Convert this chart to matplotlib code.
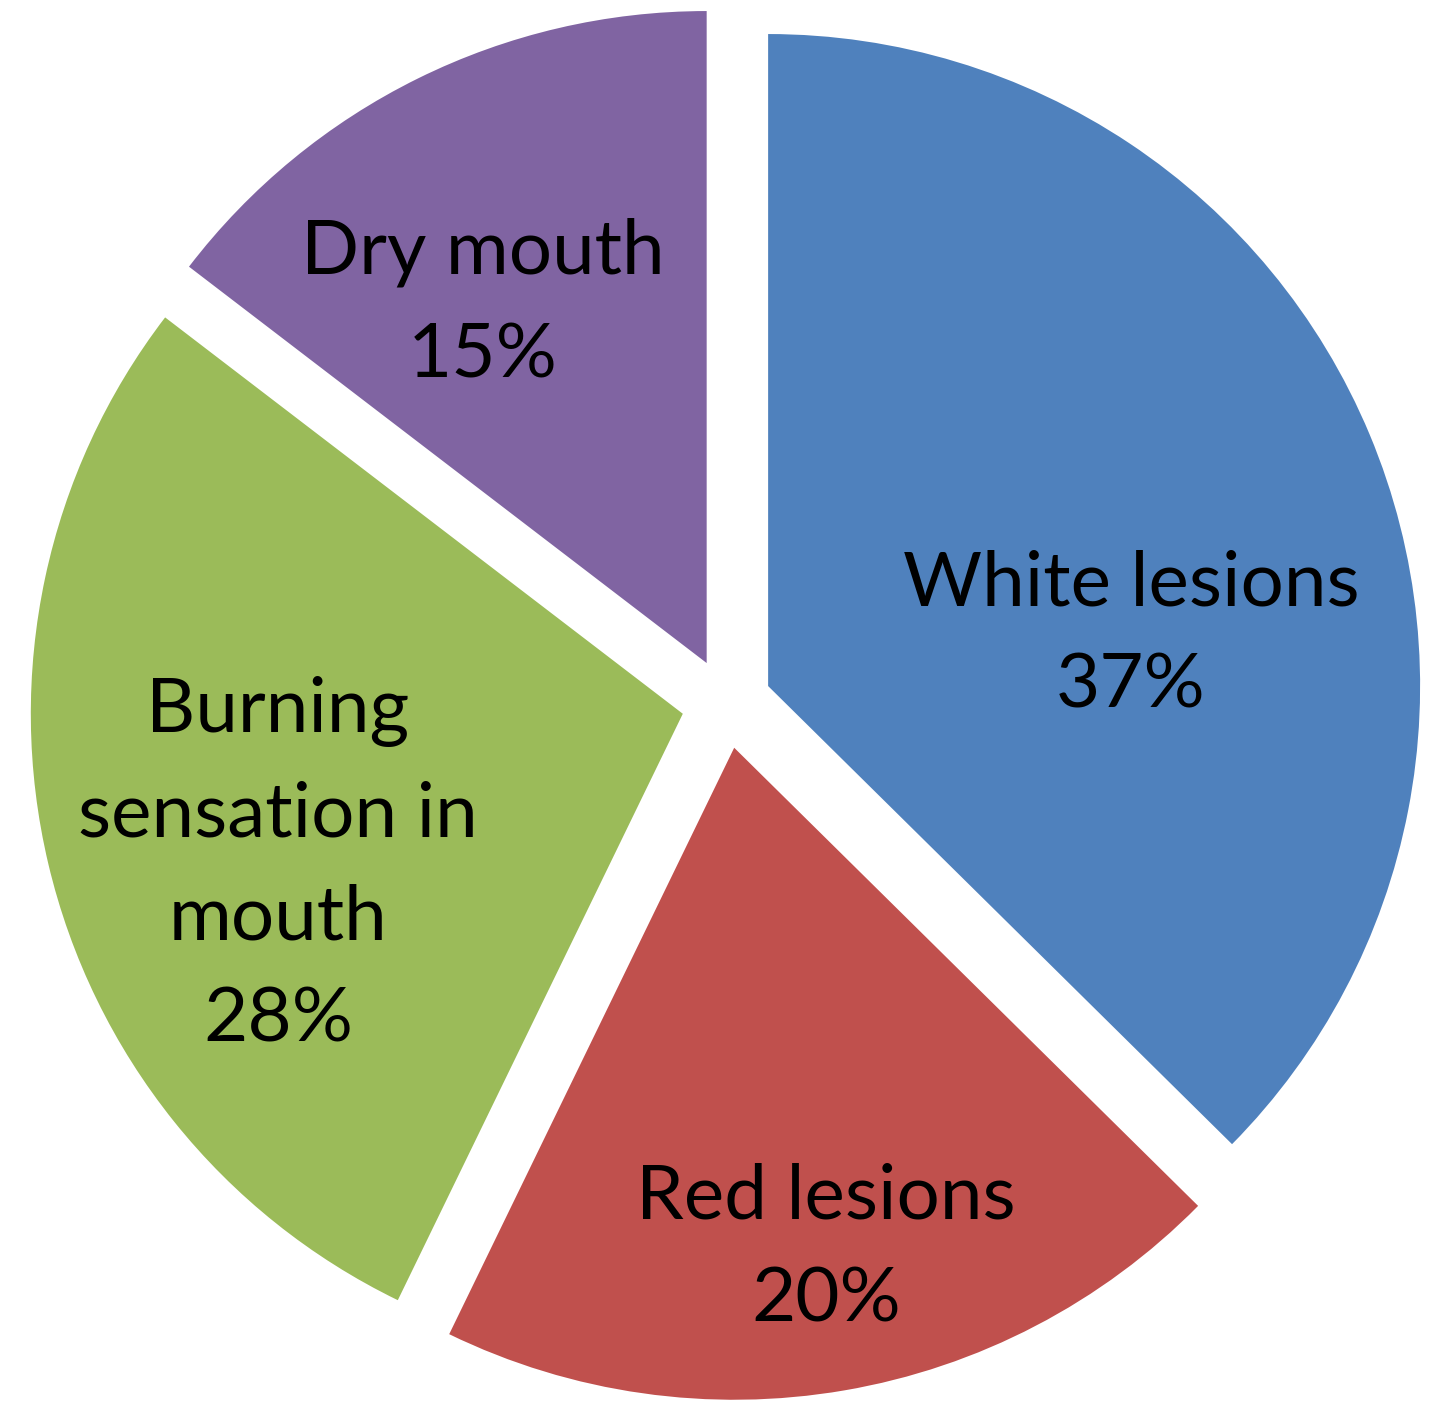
import matplotlib
matplotlib.use("Agg")
import matplotlib.pyplot as plt

categories = ["White lesions", "Red lesions", "Burning\nsensation in\nmouth", "Dry mouth"]
values = [37.4, 19.8, 28.2, 14.6]
colors = ["#4F81BD", "#C0504D", "#9BBB59", "#8064A2"]
# last-line baseline positions of the labels (pixels, origin bottom-left)
label_pos = [(1131, 708), (826, 95), (278, 374), (483, 1039)]

W, H = 1440, 1416
fig = plt.figure(figsize=(W / 100, H / 100), dpi=100)
ax = fig.add_axes([0, 0, 1, 1])

R = 652
ax.pie(values, colors=colors, startangle=90, counterclock=False,
       radius=R, center=(726.6, H - 703.4), explode=[45] * 4,
       wedgeprops=dict(linewidth=0), frame=True)
ax.set_xlim(0, W)
ax.set_ylim(0, H)
ax.set_aspect("equal")
ax.axis("off")

total = sum(values)
for cat, v, (x, y) in zip(categories, values, label_pos):
    ax.text(x, y, f"{cat}\n{round(100 * v / total):d}%", ha="center", va="baseline",
            fontsize=55, family="Lato", color="black", linespacing=1.6)

fig.savefig("out.png", dpi=100)
